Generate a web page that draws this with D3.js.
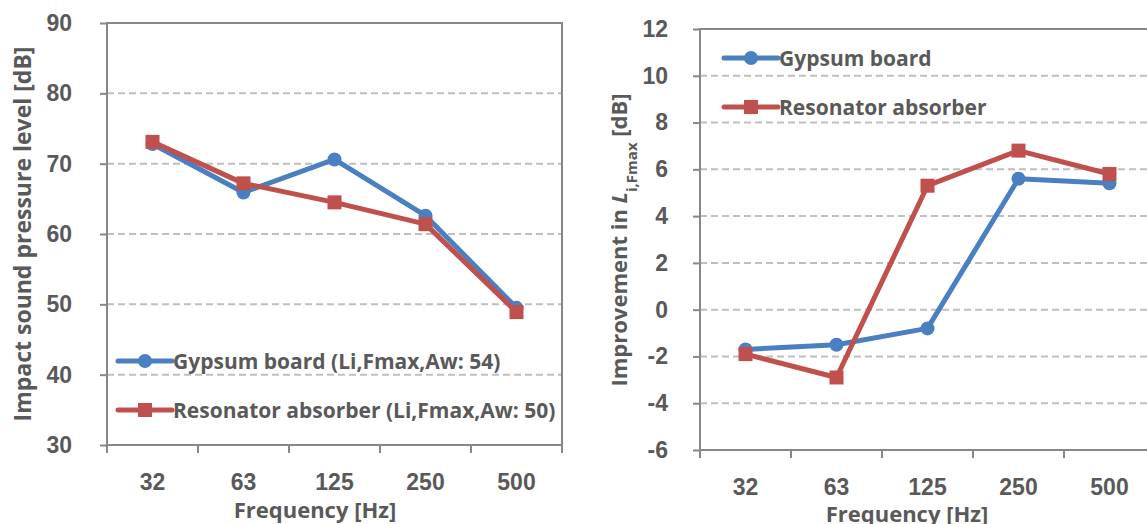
<!DOCTYPE html>
<html>
<head>
<meta charset="utf-8">
<script src="https://cdn.jsdelivr.net/npm/d3@7"></script>
<style>
  body { margin: 0; background: #fff; }
  svg { display: block; font-family: "Open Sans", sans-serif; font-weight: bold; }
</style>
</head>
<body>
<svg id="chart" width="1147" height="524"></svg>
<script>
const frequencies = ['32', '63', '125', '250', '500'];

// left panel: impact sound pressure level
const splGypsum = [72.8, 65.9, 70.6, 62.6, 49.5];
const splResonator = [73.1, 67.2, 64.5, 61.4, 48.9];
const splTicks = [30, 40, 50, 60, 70, 80, 90];

// right panel: improvement
const impGypsum = [-1.7, -1.5, -0.8, 5.6, 5.4];
const impResonator = [-1.9, -2.9, 5.3, 6.8, 5.8];
const impTicks = [-6, -4, -2, 0, 2, 4, 6, 8, 10, 12];

const COLORS = {
    blue: '#4a7fc1',
    red: '#c0504d',
    text: '#595959',
    axis: '#878787',
    grid: '#bfbfbf',
};

const FONT_TICK = '23px';
const FONT_TITLE = '22px';
const FONT_LEGEND = '21px';

const svg = d3.select('#chart');

function drawPanel(opts) {
    const g = svg.append('g');

    const x = d3.scaleBand()
        .domain(frequencies)
        .range([opts.left, opts.right]);

    const y = d3.scaleLinear()
        .domain([opts.ticks[0], opts.ticks[opts.ticks.length - 1]])
        .range([opts.bottom, opts.top]);

    // dashed gridlines
    g.append('g')
        .selectAll('line')
        .data(opts.ticks.slice(1, -1))
        .join('line')
        .attr('x1', opts.left)
        .attr('x2', opts.right)
        .attr('y1', (d) => y(d))
        .attr('y2', (d) => y(d))
        .attr('stroke', COLORS.grid)
        .attr('stroke-width', 2)
        .attr('stroke-dasharray', '7,4');

    // plot frame
    g.append('rect')
        .attr('x', opts.left)
        .attr('y', opts.top)
        .attr('width', opts.right - opts.left)
        .attr('height', opts.bottom - opts.top)
        .attr('fill', 'none')
        .attr('stroke', COLORS.axis)
        .attr('stroke-width', 2);

    // y axis (plain hyphen for negatives, like the original)
    const yAxis = g.append('g')
        .attr('transform', `translate(${opts.left},0)`)
        .call(d3.axisLeft(y).tickValues(opts.ticks).tickSize(7).tickPadding(opts.yPad).tickFormat((d) => String(d)));
    yAxis.select('.domain').remove();
    yAxis.selectAll('line').attr('stroke', COLORS.axis).attr('stroke-width', 2);
    yAxis.selectAll('text')
        .attr('fill', COLORS.text)
        .style('font-size', FONT_TICK)
        .style('font-family', 'inherit');

    // x axis labels
    const xAxis = g.append('g')
        .attr('transform', `translate(0,${opts.bottom})`)
        .call(d3.axisBottom(x).tickSize(0).tickPadding(opts.xPad));
    xAxis.select('.domain').remove();
    xAxis.selectAll('text')
        .attr('fill', COLORS.text)
        .style('font-size', FONT_TICK)
        .style('font-family', 'inherit');

    // x ticks on category boundaries
    const bounds = frequencies.map((f) => x(f)).concat([x.range()[1]]);
    g.append('g')
        .selectAll('line')
        .data(bounds)
        .join('line')
        .attr('x1', (d) => d)
        .attr('x2', (d) => d)
        .attr('y1', opts.bottom)
        .attr('y2', opts.bottom + 8)
        .attr('stroke', COLORS.axis)
        .attr('stroke-width', 2);

    // axis titles
    g.append('text')
        .attr('x', opts.xTitleX)
        .attr('y', opts.xTitleY)
        .attr('text-anchor', 'middle')
        .attr('fill', COLORS.text)
        .style('font-size', FONT_TITLE)
        .text('Frequency [Hz]');

    const yTitle = g.append('text')
        .attr('transform', `translate(${opts.yTitleX},${opts.yTitleY}) rotate(-90)`)
        .attr('text-anchor', 'middle')
        .attr('fill', COLORS.text)
        .style('font-size', opts.yTitleSize);
    opts.yTitle(yTitle);

    // series
    const line = d3.line()
        .x((d, i) => x(frequencies[i]) + x.bandwidth() / 2)
        .y((d) => y(d));

    const series = [
        { values: opts.gypsum, color: COLORS.blue, marker: 'circle', name: opts.names[0] },
        { values: opts.resonator, color: COLORS.red, marker: 'square', name: opts.names[1] },
    ];

    series.forEach((s) => {
        g.append('path')
            .datum(s.values)
            .attr('d', line)
            .attr('fill', 'none')
            .attr('stroke', s.color)
            .attr('stroke-width', 5)
            .attr('stroke-linejoin', 'round');
        drawMarkers(g, s.values.map((v, i) => [x(frequencies[i]) + x.bandwidth() / 2, y(v)]), s);
    });

    // legend
    const lg = g.append('g');
    series.forEach((s, i) => {
        const ly = opts.legendY[i];
        lg.append('line')
            .attr('x1', opts.legendX)
            .attr('x2', opts.legendX + 54)
            .attr('y1', ly)
            .attr('y2', ly)
            .attr('stroke', s.color)
            .attr('stroke-width', 5)
            .attr('stroke-linecap', 'round');
        drawMarkers(lg, [[opts.legendX + 27, ly]], s);
        lg.append('text')
            .attr('x', opts.legendX + 55)
            .attr('y', ly)
            .attr('dy', '0.36em')
            .attr('fill', COLORS.text)
            .style('font-size', FONT_LEGEND)
            .text(s.name);
    });
}

function drawMarkers(g, points, s) {
    if (s.marker === 'circle') {
        g.selectAll(null)
            .data(points)
            .join('circle')
            .attr('cx', (d) => d[0])
            .attr('cy', (d) => d[1])
            .attr('r', 7)
            .attr('fill', s.color);
    } else {
        g.selectAll(null)
            .data(points)
            .join('rect')
            .attr('x', (d) => d[0] - 7)
            .attr('y', (d) => d[1] - 7)
            .attr('width', 14)
            .attr('height', 14)
            .attr('fill', s.color);
    }
}

drawPanel({
    left: 107, right: 562, top: 23, bottom: 445,
    ticks: splTicks,
    gypsum: splGypsum,
    resonator: splResonator,
    names: ['Gypsum board (Li,Fmax,Aw: 54)', 'Resonator absorber (Li,Fmax,Aw: 50)'],
    legendX: 118, legendY: [361, 410],
    yPad: 28,
    xPad: 29,
    xTitleX: 315, xTitleY: 518,
    yTitleX: 31, yTitleY: 234, yTitleSize: '23px',
    yTitle: (t) => t.text('Impact sound pressure level [dB]'),
});

drawPanel({
    left: 700, right: 1155, top: 29, bottom: 450,
    ticks: impTicks,
    gypsum: impGypsum,
    resonator: impResonator,
    names: ['Gypsum board', 'Resonator absorber'],
    legendX: 724, legendY: [58, 107],
    yPad: 25,
    xPad: 29,
    xTitleX: 907, xTitleY: 522,
    yTitleX: 627, yTitleY: 240, yTitleSize: '22px',
    yTitle: (t) => {
        t.append('tspan').text('Improvement in ');
        t.append('tspan').style('font-style', 'italic').text('L');
        t.append('tspan').attr('baseline-shift', 'sub').style('font-size', '15px').text('i,Fmax');
        t.append('tspan').text(' [dB]');
    },
});
</script>
</body>
</html>
